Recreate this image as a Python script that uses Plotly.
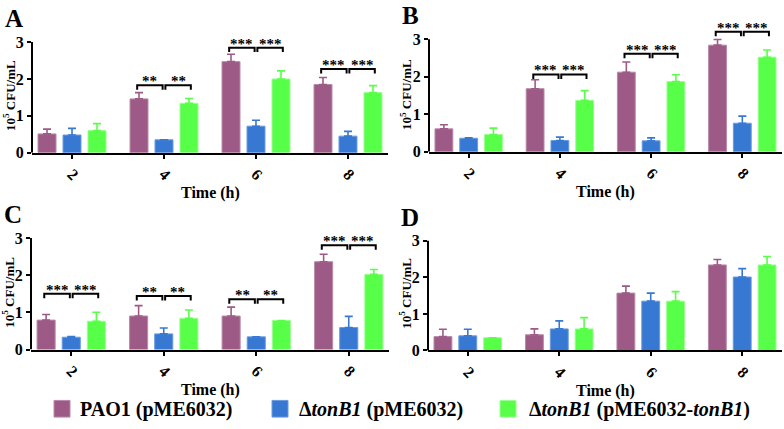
import plotly.graph_objects as go

W, H = 784, 429
FONT = "Liberation Serif"

times = ["2", "4", "6", "8"]
series_names = ["PAO1 (pME6032)", "ΔtonB1 (pME6032)", "ΔtonB1 (pME6032-tonB1)"]
legend_labels = ["PAO1 (pME6032)", "Δ<i>tonB1</i> (pME6032)",
                 "Δ<i>tonB1</i> (pME6032-<i>tonB1</i>)"]
colors = ["#9e5a87", "#3678d2", "#58ff48"]
edge_colors = ["#b98aa9", "#6a9be0", "#9cff90"]

# Panel A
a_pao1 = [0.51, 1.46, 2.47, 1.85]
a_pao1_err = [0.13, 0.17, 0.20, 0.19]
a_ton = [0.48, 0.35, 0.72, 0.45]
a_ton_err = [0.18, 0.0, 0.16, 0.13]
a_comp = [0.60, 1.34, 2.00, 1.63]
a_comp_err = [0.19, 0.13, 0.22, 0.19]
a_sig = ["", "**", "***", "***"]
a_sig_y = [None, 1.83, 2.85, 2.27]

# Panel B
b_pao1 = [0.61, 1.68, 2.12, 2.84]
b_pao1_err = [0.11, 0.24, 0.27, 0.15]
b_ton = [0.36, 0.30, 0.29, 0.76]
b_ton_err = [0.01, 0.09, 0.08, 0.19]
b_comp = [0.46, 1.37, 1.87, 2.52]
b_comp_err = [0.17, 0.26, 0.18, 0.19]
b_sig = ["", "***", "***", "***"]
b_sig_y = [None, 2.06, 2.61, 3.20]

# Panel C
c_pao1 = [0.79, 0.90, 0.90, 2.36]
c_pao1_err = [0.15, 0.28, 0.24, 0.20]
c_ton = [0.33, 0.42, 0.34, 0.59]
c_ton_err = [0.02, 0.16, 0.0, 0.30]
c_comp = [0.76, 0.84, 0.78, 2.02]
c_comp_err = [0.24, 0.22, 0.0, 0.13]
c_sig = ["***", "**", "**", "***"]
c_sig_y = [1.50, 1.44, 1.35, 2.80]

# Panel D
d_pao1 = [0.38, 0.43, 1.57, 2.34]
d_pao1_err = [0.20, 0.16, 0.19, 0.15]
d_ton = [0.40, 0.59, 1.35, 2.01]
d_ton_err = [0.18, 0.22, 0.22, 0.23]
d_comp = [0.35, 0.59, 1.35, 2.34]
d_comp_err = [0.0, 0.31, 0.26, 0.23]
d_sig = ["", "", "", ""]
d_sig_y = [None, None, None, None]

# layout in pixels: left, right, y of value 0, y of value 3
panels = [
    dict(letter="A", vals=[a_pao1, a_ton, a_comp], errs=[a_pao1_err, a_ton_err, a_comp_err],
         sig=a_sig, sig_y=a_sig_y, box=(32, 388, 156, 43)),
    dict(letter="B", vals=[b_pao1, b_ton, b_comp], errs=[b_pao1_err, b_ton_err, b_comp_err],
         sig=b_sig, sig_y=b_sig_y, box=(429, 782, 155, 40)),
    dict(letter="C", vals=[c_pao1, c_ton, c_comp], errs=[c_pao1_err, c_ton_err, c_comp_err],
         sig=c_sig, sig_y=c_sig_y, box=(31, 389, 357, 243)),
    dict(letter="D", vals=[d_pao1, d_ton, d_comp], errs=[d_pao1_err, d_ton_err, d_comp_err],
         sig=d_sig, sig_y=d_sig_y, box=(428, 782, 358, 246)),
]

BARGAP = 0.185
GROUPGAP = 0.28
XR = [-0.435, 3.435]
YTOP = 3.5
slot = (1 - BARGAP) / 3


def px(x):
    return x / W


def py(y):
    return 1 - y / H


fig = go.Figure()
shapes = []
annotations = []
layout_axes = {}
xs = list(range(len(times)))

for i, p in enumerate(panels):
    n = "" if i == 0 else str(i + 1)
    xa, ya = "x" + n, "y" + n
    left, right, y0, y3 = p["box"]
    unit = (y0 - y3) / 3.0
    ytop_px = y0 - YTOP * unit

    for k in range(3):
        fig.add_trace(go.Bar(
            x=xs, y=p["vals"][k], name=series_names[k], xaxis=xa, yaxis=ya,
            showlegend=False,
            marker=dict(color=colors[k], line=dict(color=edge_colors[k], width=1)),
            error_y=dict(type="data", symmetric=False, array=p["errs"][k],
                         arrayminus=[0] * len(times), color=colors[k],
                         thickness=1.6, width=4),
        ))

    layout_axes["xaxis" + n] = dict(
        domain=[px(left), px(right)], anchor=ya, range=XR,
        tickvals=xs, ticktext=times, tickangle=45,
        showline=True, linecolor="black", linewidth=2,
        ticks="outside", ticklen=4, tickwidth=2, tickcolor="black",
        tickfont=dict(family=FONT, size=16, color="black", weight="bold"),
        showgrid=False, zeroline=False, fixedrange=True,
    )
    layout_axes["yaxis" + n] = dict(
        domain=[py(y0), py(ytop_px)], anchor=xa, range=[0, YTOP],
        tickvals=[0, 1, 2, 3], ticktext=["0", "1", "2", "3"],
        showline=False, ticks="outside", ticklen=4, tickwidth=2, tickcolor="black",
        tickfont=dict(family=FONT, size=16, color="black", weight="bold"),
        showgrid=False, zeroline=False, fixedrange=True,
    )
    # y axis line from 0 to 3
    shapes.append(dict(type="line", xref="paper", yref=ya,
                       x0=px(left), x1=px(left), y0=0, y1=3,
                       line=dict(color="black", width=2)))

    # significance brackets
    for g, s in enumerate(p["sig"]):
        if not s:
            continue
        h = p["sig_y"][g]
        leg = 0.12
        segs = [(g - slot - 0.02, g - 0.015), (g + 0.015, g + slot + 0.02)]
        for (sx0, sx1) in segs:
            shapes.append(dict(
                type="path", xref=xa, yref=ya,
                path=f"M {sx0},{h - leg} L {sx0},{h} L {sx1},{h} L {sx1},{h - leg}",
                line=dict(color="black", width=2)))
            annotations.append(dict(
                x=(sx0 + sx1) / 2, y=h, xref=xa, yref=ya, text=s, showarrow=False,
                yanchor="bottom", yshift=-6,
                font=dict(family=FONT, size=15, color="black", weight="bold")))

    # axis titles
    annotations.append(dict(
        x=px((left + right) / 2), y=py(y0 + 41), xref="paper", yref="paper",
        text="Time (h)", showarrow=False, xanchor="center", yanchor="middle",
        font=dict(family=FONT, size=16, color="black", weight="bold")))
    annotations.append(dict(
        x=px(left - 23), y=py(y0 - 58), xref="paper", yref="paper",
        text="10<sup>5</sup> CFU/mL", showarrow=False, textangle=-90,
        xanchor="center", yanchor="middle", borderpad=0,
        font=dict(family=FONT, size=13, color="black", weight="bold")))
    # panel letter
    annotations.append(dict(
        x=px(left - 29), y=py(y3 - 40), xref="paper", yref="paper",
        text=p["letter"], showarrow=False, xanchor="left", yanchor="top",
        font=dict(family=FONT, size=25, color="black", weight="bold")))

# legend (drawn manually)
legend_items = [(54, 78), (272, 297), (500, 527)]
for k, (sx, tx) in enumerate(legend_items):
    shapes.append(dict(type="rect", xref="paper", yref="paper",
                       x0=px(sx), x1=px(sx + 16), y0=py(426), y1=py(409),
                       fillcolor=colors[k], line=dict(color=edge_colors[k], width=1)))
    annotations.append(dict(
        x=px(tx), y=py(418), xref="paper", yref="paper", text=legend_labels[k],
        showarrow=False, xanchor="left", yanchor="middle",
        font=dict(family=FONT, size=20, color="black", weight="bold")))

fig.update_layout(
    width=W, height=H, margin=dict(l=0, r=0, t=0, b=0),
    paper_bgcolor="white", plot_bgcolor="white",
    barmode="group", bargap=BARGAP, bargroupgap=GROUPGAP,
    shapes=shapes, annotations=annotations, showlegend=False,
    **layout_axes,
)

fig.write_html("out.html")
